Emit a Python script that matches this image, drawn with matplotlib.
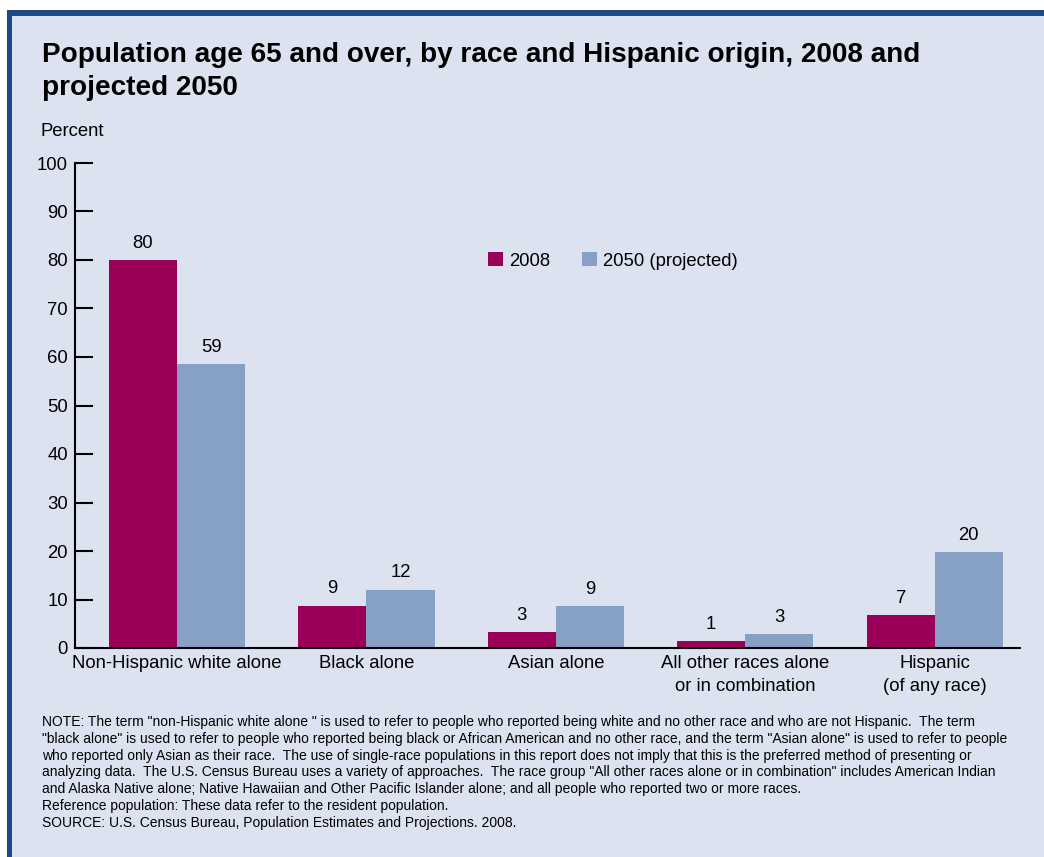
import numpy as np
import matplotlib.pyplot as plt
from matplotlib.patches import Rectangle

plt.rcParams['font.family'] = ['Liberation Sans', 'DejaVu Sans']

categories = ["Non-Hispanic white alone", "Black alone", "Asian alone",
              "All other races alone\nor in combination", "Hispanic\n(of any race)"]
values_2008 = [80.0, 8.7, 3.3, 1.4, 6.8]
values_2050 = [58.5, 12.0, 8.6, 2.9, 19.8]
labels_2008 = ["80", "9", "3", "1", "7"]
labels_2050 = ["59", "12", "9", "3", "20"]
yticks = [0, 10, 20, 30, 40, 50, 60, 70, 80, 90, 100]

bg = "#dce2ef"
c2008 = "#9b0058"
c2050 = "#87a0c6"
border = "#1b4a86"
fs = 13.3

W, H = 1044, 857
fig = plt.figure(figsize=(W / 100, H / 100), dpi=100)
fig.patch.set_facecolor("white")

# panel and its blue border (top and left)
fig.patches.append(Rectangle((7 / W, 0), 1, 1 - 10 / H, transform=fig.transFigure,
                             facecolor=bg, edgecolor="none", zorder=-2))
fig.patches.append(Rectangle((7 / W, 1 - 16 / H), 1, 6 / H, transform=fig.transFigure,
                             facecolor=border, edgecolor="none", zorder=-1))
fig.patches.append(Rectangle((7 / W, 0), 5 / W, 1 - 10 / H, transform=fig.transFigure,
                             facecolor=border, edgecolor="none", zorder=-1))

ax = fig.add_axes([75 / W, (H - 648) / H, (1020 - 75) / W, (648 - 163) / H])
ax.set_facecolor("none")

x = np.arange(len(categories))
w = 0.36
ax.bar(x - w / 2, values_2008, w, color=c2008, label="2008")
ax.bar(x + w / 2, values_2050, w, color=c2050, label="2050 (projected)")

for xi, v, t in zip(x, values_2008, labels_2008):
    ax.annotate(t, (xi - w / 2, v), xytext=(0, 6), textcoords="offset points",
                ha="center", va="bottom", fontsize=fs)
for xi, v, t in zip(x, values_2050, labels_2050):
    ax.annotate(t, (xi + w / 2, v), xytext=(0, 6), textcoords="offset points",
                ha="center", va="bottom", fontsize=fs)

ax.set_xlim(-0.538, 4.45)
ax.set_ylim(0, 100)
ax.set_yticks(yticks)
ax.set_xticks(x)
ax.set_xticklabels(categories, fontsize=fs, linespacing=1.45)
ax.tick_params(axis="x", length=0, pad=5)
ax.tick_params(axis="y", direction="in", length=13, width=1.5, pad=5, labelsize=fs)
for s in ["top", "right"]:
    ax.spines[s].set_visible(False)
for s in ["left", "bottom"]:
    ax.spines[s].set_linewidth(1.5)

ax.legend(loc="center left", bbox_to_anchor=(0.437, 0.798), ncol=2, frameon=False,
          fontsize=fs, handlelength=0.8, handleheight=0.8, columnspacing=1.7,
          handletextpad=0.35, borderpad=0, borderaxespad=0)

fig.text(42 / W, 1 - 42 / H,
         "Population age 65 and over, by race and Hispanic origin, 2008 and\nprojected 2050",
         fontsize=20.1, fontweight="bold", va="top", ha="left", linespacing=1.36)
fig.text(40 / W, 1 - 131 / H, "Percent", fontsize=fs, va="center", ha="left")

notes = [
    'NOTE: The term "non-Hispanic white alone " is used to refer to people who reported being white and no other race and who are not Hispanic.  The term',
    '"black alone" is used to refer to people who reported being black or African American and no other race, and the term "Asian alone" is used to refer to people',
    'who reported only Asian as their race.  The use of single-race populations in this report does not imply that this is the preferred method of presenting or',
    'analyzing data.  The U.S. Census Bureau uses a variety of approaches.  The race group "All other races alone or in combination" includes American Indian',
    'and Alaska Native alone; Native Hawaiian and Other Pacific Islander alone; and all people who reported two or more races.',
    'Reference population: These data refer to the resident population.',
    'SOURCE: U.S. Census Bureau, Population Estimates and Projections. 2008.',
]
for i, line in enumerate(notes):
    fig.text(42 / W, 1 - (722 + i * 16.8) / H, line, fontsize=10, va="center", ha="left")

fig.savefig("out.png", dpi=100, facecolor=fig.get_facecolor())
